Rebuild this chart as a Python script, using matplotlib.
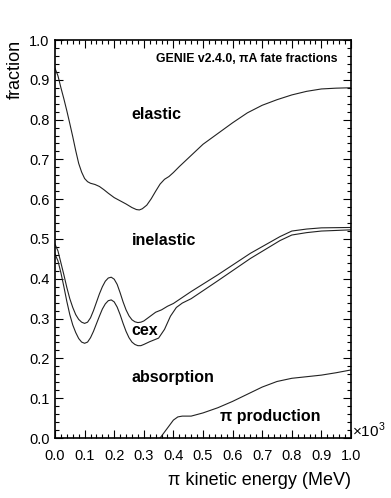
import matplotlib
matplotlib.use("Agg")
import matplotlib.pyplot as plt
from matplotlib.ticker import MultipleLocator

plt.rcParams["font.family"] = ["Liberation Sans", "DejaVu Sans"]
plt.rcParams["mathtext.fontset"] = "custom"
plt.rcParams["mathtext.rm"] = "Liberation Sans"

# ── Data (kinetic energy in units of 10^3 MeV, cumulative fractions) ─────────
elastic_x = [0.0, 0.01, 0.02, 0.03, 0.04, 0.05, 0.06, 0.07, 0.08, 0.09, 0.10,
             0.11, 0.12, 0.135, 0.15, 0.165, 0.18, 0.20, 0.22, 0.24, 0.26, 0.275,
             0.285, 0.295, 0.31, 0.325, 0.34, 0.355, 0.37, 0.385, 0.40, 0.42,
             0.46, 0.50, 0.55, 0.60, 0.65, 0.70, 0.75, 0.80, 0.85, 0.90, 0.95, 1.0]
elastic_y = [0.929, 0.91, 0.88, 0.852, 0.822, 0.79, 0.757, 0.722, 0.69, 0.668,
             0.652, 0.644, 0.640, 0.637, 0.632, 0.624, 0.615, 0.604, 0.596, 0.588,
             0.579, 0.574, 0.573, 0.576, 0.585, 0.601, 0.620, 0.638, 0.650, 0.657,
             0.667, 0.682, 0.710, 0.738, 0.765, 0.792, 0.817, 0.836, 0.850, 0.862,
             0.871, 0.877, 0.879, 0.880]

inel_x = [0.0, 0.01, 0.02, 0.03, 0.04, 0.05, 0.06, 0.07, 0.08, 0.09, 0.10, 0.11,
          0.12, 0.13, 0.14, 0.15, 0.16, 0.17, 0.18, 0.19, 0.20, 0.21, 0.22, 0.23,
          0.24, 0.25, 0.26, 0.27, 0.28, 0.29, 0.30, 0.32, 0.34, 0.36, 0.38, 0.40,
          0.42, 0.46, 0.55, 0.66, 0.76, 0.80, 0.85, 0.90, 1.0]
inel_y = [0.487, 0.47, 0.44, 0.41, 0.378, 0.35, 0.328, 0.31, 0.298, 0.291, 0.288,
          0.291, 0.302, 0.32, 0.341, 0.362, 0.38, 0.394, 0.402, 0.404, 0.399, 0.386,
          0.365, 0.342, 0.322, 0.307, 0.297, 0.292, 0.290, 0.291, 0.294, 0.305,
          0.316, 0.322, 0.331, 0.338, 0.348, 0.368, 0.41, 0.464, 0.506, 0.520,
          0.525, 0.528, 0.529]

cex_x = [0.0, 0.01, 0.02, 0.03, 0.04, 0.05, 0.06, 0.07, 0.08, 0.09, 0.10, 0.11,
         0.12, 0.13, 0.14, 0.15, 0.16, 0.17, 0.18, 0.19, 0.20, 0.21, 0.22, 0.23,
         0.24, 0.25, 0.26, 0.27, 0.28, 0.29, 0.30, 0.32, 0.35, 0.37, 0.39, 0.41,
         0.43, 0.46, 0.55, 0.66, 0.76, 0.80, 0.85, 0.90, 1.0]
cex_y = [0.462, 0.445, 0.415, 0.38, 0.343, 0.31, 0.284, 0.265, 0.25, 0.241, 0.238,
         0.241, 0.252, 0.268, 0.287, 0.306, 0.324, 0.337, 0.345, 0.347, 0.342, 0.329,
         0.31, 0.288, 0.268, 0.252, 0.241, 0.235, 0.232, 0.232, 0.235, 0.242,
         0.251, 0.273, 0.306, 0.328, 0.339, 0.350, 0.395, 0.451, 0.496, 0.510,
         0.516, 0.520, 0.523]

abs_x = [0.355, 0.38, 0.40, 0.415, 0.43, 0.46, 0.50, 0.55, 0.60, 0.65, 0.70, 0.75,
         0.80, 0.85, 0.90, 0.95, 1.0]
abs_y = [0.0, 0.025, 0.045, 0.053, 0.055, 0.055, 0.063, 0.076, 0.092, 0.110, 0.128,
         0.142, 0.150, 0.154, 0.158, 0.164, 0.171]

region_labels = ["elastic", "inelastic", "cex", "absorption", "π production"]
label_x = [0.259, 0.259, 0.259, 0.259, 0.557]
label_y = [0.814, 0.495, 0.271, 0.151, 0.054]

# ── Figure ───────────────────────────────────────────────────────────────────
fig = plt.figure(figsize=(3.91, 4.98), dpi=100)
ax = fig.add_axes([55 / 391, 60 / 498, 296 / 391, 398 / 498])

for xs, ys in [(elastic_x, elastic_y), (inel_x, inel_y),
               (cex_x, cex_y), (abs_x, abs_y)]:
    ax.plot(xs, ys, color="#222222", lw=0.8)

ax.set_xlim(0, 1.0)
ax.set_ylim(0, 1.0)

# ROOT-like frame: ticks inside on all sides
ax.xaxis.set_major_locator(MultipleLocator(0.1))
ax.xaxis.set_minor_locator(MultipleLocator(0.02))
ax.yaxis.set_major_locator(MultipleLocator(0.1))
ax.yaxis.set_minor_locator(MultipleLocator(0.02))
ax.xaxis.set_major_formatter(plt.FormatStrFormatter("%.1f"))
ax.yaxis.set_major_formatter(plt.FormatStrFormatter("%.1f"))
ax.tick_params(which="both", direction="in", top=True, right=True, width=0.8)
ax.tick_params(which="major", length=5.5)
ax.tick_params(which="minor", length=2.8)
ax.tick_params(axis="x", which="major", labelsize=10.5, pad=8)
ax.tick_params(axis="y", which="major", labelsize=10.5, pad=4)
for spine in ax.spines.values():
    spine.set_linewidth(1.2)

# ── Axis titles ──────────────────────────────────────────────────────────────
ax.text(-0.135, 1.0, "fraction", transform=ax.transAxes, rotation=90,
        ha="center", va="top", fontsize=13)
ax.text(1.0, -0.106, "π kinetic energy (MeV)", transform=ax.transAxes,
        ha="right", va="center", fontsize=13)
ax.text(1.005, -0.004, r"$\times10^{3}$", transform=ax.transAxes,
        ha="left", va="bottom", fontsize=11)

# ── Labels ───────────────────────────────────────────────────────────────────
for lab, lx, ly in zip(region_labels, label_x, label_y):
    ax.text(lx, ly, lab, ha="left", va="center", fontsize=11.5, fontweight="bold")

ax.text(0.956, 0.952, "GENIE v2.4.0, πA fate fractions", ha="right", va="center",
        fontsize=8.8, fontweight="bold")

fig.savefig("out.png", dpi=100)
